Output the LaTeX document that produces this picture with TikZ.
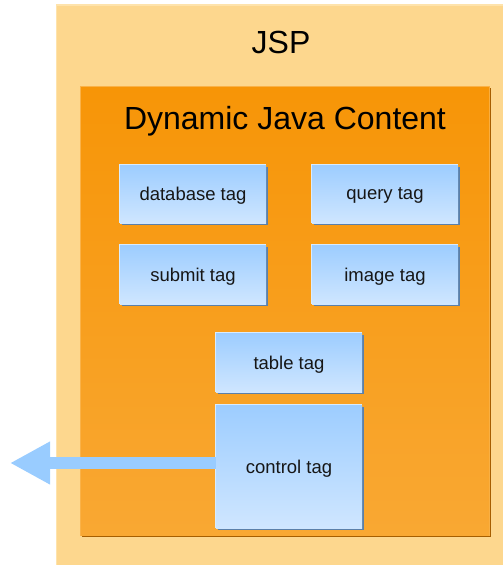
\documentclass[tikz,border=0pt]{standalone}
\usepackage{fontspec}
\setmainfont{Liberation Sans}
\usetikzlibrary{arrows.meta}

\definecolor{jspfill}{HTML}{FDD78E}
\definecolor{jspedge}{HTML}{FEE3AC}
\definecolor{dyntop}{HTML}{F79507}
\definecolor{dynbot}{HTML}{F9A833}
\definecolor{dynshadow}{HTML}{A65E00}
\definecolor{dynedge}{HTML}{FAB248}
\definecolor{tagtop}{HTML}{9DCDFF}
\definecolor{tagbot}{HTML}{CFE6FF}
\definecolor{tagshadow}{HTML}{5B80AA}
\definecolor{tagedge}{HTML}{D8ECFF}
\definecolor{arrowblue}{HTML}{99CCFF}
\definecolor{ink}{HTML}{161616}

\tikzset{
  tagbox/.style={rectangle, inner sep=0pt, top color=tagtop, bottom color=tagbot,
    draw=none, text=ink, font=\fontsize{18.5}{20}\selectfont, text depth=0pt,
    minimum width=146pt, minimum height=58pt},
  titletext/.style={text=black, font=\fontsize{32}{36}\selectfont, inner sep=0pt},
}

% shadow and highlight edge behind a tag box: center x, center y, height
\newcommand{\tagbacking}[3]{%
  \fill[tagshadow] (#1-73+1.6, #2-#3/2+1.6) rectangle (#1+73+1.6, #2+#3/2+1.6);
  \fill[tagedge] (#1-73-1, #2-#3/2-1) rectangle (#1+73, #2+#3/2);
}

\begin{document}
\begin{tikzpicture}[x=1pt, y=-1pt]
  \useasboundingbox (0,0) rectangle (503,565);

  % JSP page area
  \fill[jspedge] (56,4) rectangle (503,565);
  \node[rectangle, fill=jspfill, inner sep=0pt, minimum width=446pt, minimum height=559pt]
    (jsp) at (279.5,285.5) {};
  \node[titletext] (jsptitle) at (281,42) {JSP};

  % dynamic content panel
  \fill[dynshadow] (82,88) rectangle (491,537);
  \fill[dynedge] (80,86) rectangle (489.5,535.5);
  \node[rectangle, inner sep=0pt, top color=dyntop, bottom color=dynbot,
    minimum width=408pt, minimum height=448pt] (dyn) at (285,311.5) {};
  \node[titletext] (dyntitle) at (285,121) {Dynamic Java Content};

  % tag boxes
  \tagbacking{193}{194}{58}
  \node[tagbox] (db) at (193,194) {database tag};
  \tagbacking{385}{194}{58}
  \node[tagbox] (query) at (385,194) {query tag};
  \tagbacking{193}{274.5}{59}
  \node[tagbox, minimum height=59pt] (submit) at (193,274.5) {submit tag};
  \tagbacking{385}{274.5}{59}
  \node[tagbox, minimum height=59pt] (image) at (385,274.5) {image tag};
  \tagbacking{289}{362.5}{59}
  \node[tagbox, minimum height=59pt] (table) at (289,362.5) {table tag};
  \tagbacking{289}{466.5}{123}
  \node[tagbox, minimum height=123pt] (control) at (289,466.5) {control tag};

  % outgoing arrow
  \coordinate (out) at (10,463);
  \draw[arrowblue, line width=12pt, line cap=butt,
    -{Triangle[width=40pt, length=40pt]}]
    ([yshift=3.5pt]control.west) -- (out);
\end{tikzpicture}
\end{document}
